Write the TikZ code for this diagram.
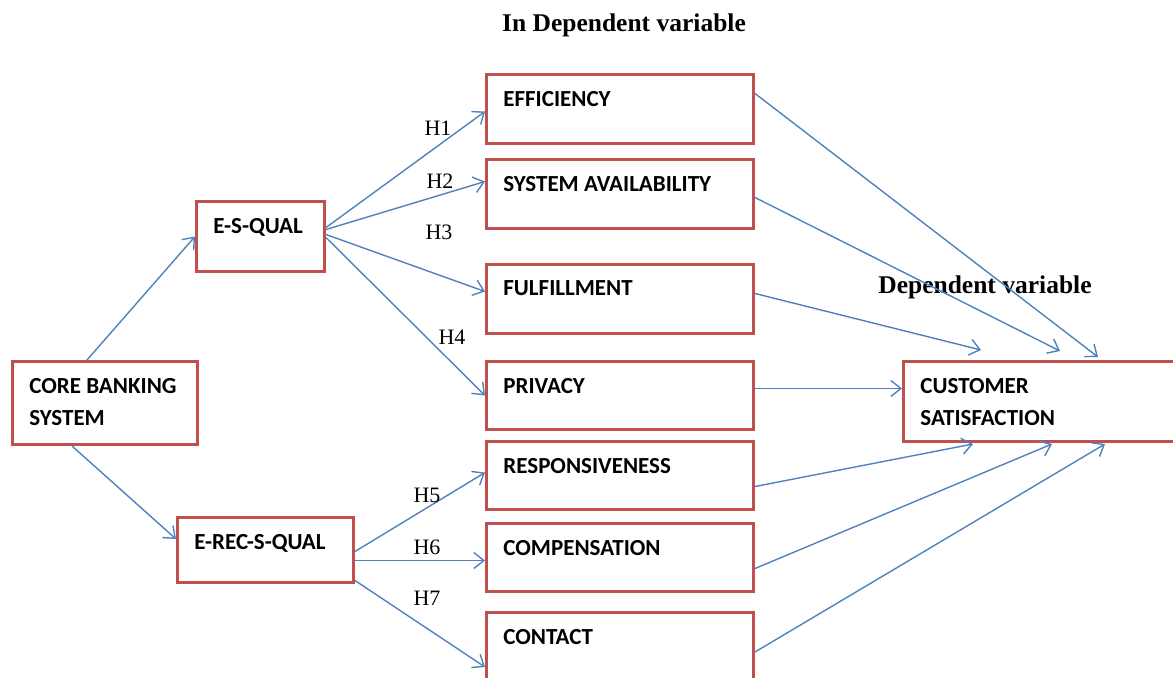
\documentclass[tikz,border=0pt]{standalone}
\usepackage{fontspec}
\setmainfont{Liberation Serif}
\newfontfamily\calfont{Carlito}
\usetikzlibrary{arrows.meta}
\definecolor{boxred}{RGB}{192,80,77}
\definecolor{linkblue}{RGB}{79,129,189}
\tikzset{
  varbox/.style={draw=boxred, line width=1.5pt, rectangle, anchor=north west, inner sep=0pt},
  boxtext/.style={anchor=north west, inner sep=0pt, xshift=9pt, yshift=-8.8pt, align=left, font=\calfont\bfseries\fontsize{11.5}{16}\selectfont},
  link/.style={draw=linkblue, line width=0.7pt, -{Straight Barb[length=5pt,width=8pt]}},
  hyp/.style={font=\fontsize{11}{13}\selectfont, inner sep=0pt},
  heading/.style={font=\bfseries\fontsize{12.75}{15}\selectfont, inner sep=0pt}
}

\begin{document}
\begin{tikzpicture}[x=0.5pt,y=0.5pt,yscale=-1,xscale=1]
\clip (0,0) rectangle (1173,677);

% Headings
\node[heading] (indep) at (624,25) {In Dependent variable};
\node[heading] (dep) at (985,287) {Dependent variable};

% Left boxes
\node[varbox, minimum width=92.5pt, minimum height=41.5pt, label={[boxtext]north west:{CORE BANKING\\SYSTEM}}] (core) at (11,360) {};
\node[varbox, minimum width=64pt, minimum height=35pt, label={[boxtext]north west:E-S-QUAL}] (esq) at (195,200) {};
\node[varbox, minimum width=88pt, minimum height=32.5pt, label={[boxtext]north west:E-REC-S-QUAL}] (erec) at (176,516) {};

% Middle boxes
\node[varbox, minimum width=133.5pt, minimum height=34.5pt, label={[boxtext]north west:EFFICIENCY}] (eff) at (485,73) {};
\node[varbox, minimum width=133.5pt, minimum height=34.5pt, label={[boxtext]north west:SYSTEM AVAILABILITY}] (sa) at (485,158) {};
\node[varbox, minimum width=133.5pt, minimum height=34.5pt, label={[boxtext]north west:FULFILLMENT}] (ful) at (485,263) {};
\node[varbox, minimum width=133.5pt, minimum height=34pt, label={[boxtext]north west:PRIVACY}] (pri) at (485,360) {};
\node[varbox, minimum width=133.5pt, minimum height=34pt, label={[boxtext]north west:RESPONSIVENESS}] (res) at (485,440) {};
\node[varbox, minimum width=133.5pt, minimum height=34pt, label={[boxtext]north west:COMPENSATION}] (com) at (485,522) {};
\node[varbox, minimum width=133.5pt, minimum height=40pt, label={[boxtext]north west:CONTACT}] (con) at (485,611) {};

% Right box
\node[varbox, minimum width=145pt, minimum height=40pt, label={[boxtext]north west:{CUSTOMER\\SATISFACTION}}] (cs) at (902,360) {};

% Core to constructs
\draw[link] ([xshift=38pt]core.north west) -- (esq.west);
\draw[link] ([xshift=30.5pt]core.south west) -- ([yshift=-5.5pt]erec.west);

% E-S-QUAL dimensions
\draw[link] ([yshift=-4.5pt]esq.east) -- ([yshift=1.25pt]eff.west);
\draw[link] ([yshift=-3.5pt]esq.east) -- ([yshift=-6.25pt]sa.west);
\draw[link] ([yshift=-1pt]esq.east) -- ([yshift=-3.75pt]ful.west);
\draw[link] ([yshift=0.5pt]esq.east) -- (pri.west);

% E-REC-S-QUAL dimensions
\draw[link] ([yshift=0.75pt]erec.east) -- ([yshift=-1.5pt]res.west);
\draw[link] ([yshift=5.25pt]erec.east) -- ([yshift=1.5pt]com.west);
\draw[link] ([yshift=15.25pt]erec.east) -- ([yshift=28pt]con.north west);

% Dimensions to satisfaction
\draw[link] ([yshift=-7.75pt]eff.east) -- ([xshift=98pt,yshift=-1.5pt]cs.north west);
\draw[link] ([yshift=1.75pt]sa.east) -- ([xshift=79pt,yshift=-4.5pt]cs.north west);
\draw[link] ([yshift=-2.75pt]ful.east) -- ([xshift=39.5pt,yshift=-5pt]cs.north west);
\draw[link] ([yshift=-3.5pt]pri.east) -- ([yshift=-6.5pt]cs.west);
\draw[link] ([yshift=5.5pt]res.east) -- ([xshift=35.5pt,yshift=0.5pt]cs.south west);
\draw[link] ([yshift=5.5pt]com.east) -- ([xshift=75pt,yshift=0.5pt]cs.south west);
\draw[link] ([yshift=20.5pt]con.north east) -- ([xshift=101.5pt,yshift=0.5pt]cs.south west);

% Hypotheses
\node[hyp] (h1) at (438,128) {H1};
\node[hyp] (h2) at (440,181) {H2};
\node[hyp] (h3) at (439,232) {H3};
\node[hyp] (h4) at (452,337) {H4};
\node[hyp] (h5) at (427,495) {H5};
\node[hyp] (h6) at (427,547) {H6};
\node[hyp] (h7) at (427,598) {H7};

\end{tikzpicture}
\end{document}
